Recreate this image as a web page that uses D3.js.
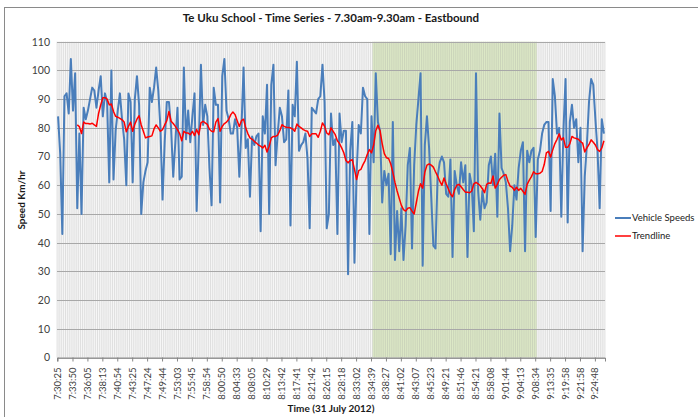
<!DOCTYPE html>
<html>
<head>
<meta charset="utf-8">
<script src="https://cdn.jsdelivr.net/npm/d3@7"></script>
<style>
  html, body { margin: 0; padding: 0; background: #fff; }
  svg { display: block; font-family: Lato, "Liberation Sans", sans-serif; }
</style>
</head>
<body>
<svg id="chart" width="698" height="417"></svg>
<script>
// Tick labels on the time axis (one every 7 vehicles)
const times = ["7:30:25","7:33:50","7:36:05","7:38:13","7:40:54","7:43:25","7:47:24","7:49:44",
  "7:53:03","7:55:45","7:58:54","8:00:50","8:04:33","8:08:05","8:10:29","8:13:42","8:17:41",
  "8:21:42","8:26:15","8:28:18","8:33:02","8:34:39","8:38:27","8:41:02","8:43:07","8:45:23",
  "8:49:21","8:51:46","8:54:21","8:58:08","9:01:44","9:04:13","9:08:34","9:13:35","9:19:58",
  "9:21:58","9:24:48"];
const labelEvery = 7;

// Individual vehicle speeds (km/h), in order of passing
const speeds = [
  84,71,43,91,92,85,104,86,99,52,
  78,50,87,83,86,90,94,93,87,93,
  98,84,92,89,61,100,62,79,86,92,
  83,76,60,92,89,61,90,98,88,50,
  61,65,68,94,89,94,101,93,80,55,
  75,89,89,80,63,75,87,62,63,101,
  76,86,75,84,92,51,75,102,81,88,
  84,66,53,94,88,88,54,98,104,86,
  83,78,78,83,80,63,80,101,73,76,
  56,77,74,77,78,44,84,78,95,50,
  95,102,67,78,87,84,75,76,93,46,
  88,84,103,72,74,75,78,69,45,87,
  86,85,90,91,102,89,45,50,85,74,
  76,43,85,75,79,79,29,72,82,33,
  64,81,78,94,91,90,43,84,68,99,
  82,79,54,65,60,64,36,82,34,51,
  37,52,34,46,67,73,38,67,81,90,
  99,32,74,84,73,56,39,38,63,68,
  70,68,57,56,69,35,65,60,57,68,
  61,67,35,64,60,44,99,58,48,58,
  52,54,67,70,60,71,49,85,66,64,
  61,52,37,46,60,55,66,72,75,37,
  72,68,72,73,42,69,72,78,81,82,
  82,51,97,91,78,80,49,79,97,47,
  82,88,80,83,68,80,37,63,74,89,
  97,95,83,72,52,83,78
];

// Trendline (km/h); no value for the first vehicles
const trendline = [
  null,null,null,null,null,null,null,null,null,81,
  80.4,78,82,81.5,81.5,81.3,81.6,81,80.5,85,
  88,90.5,90.5,90,88,88.3,85.7,84,83.7,83.3,
  82.8,82,78.6,80.5,82,78.8,81.3,83,84.2,81,
  78.8,76.5,76.8,77,77.2,79.6,81,80,78.8,79.4,
  81,82.5,85.7,82.3,81.5,80.5,79.4,78,75.5,78.8,
  78.2,78.2,77.6,78.8,77.3,79.4,77.6,81.7,82.3,81.7,
  81.2,79.5,78.8,78.6,82,83.2,78.8,80.5,81.5,82,
  82.9,84.6,85.5,84.6,82.5,80.5,82.5,83,80,78,
  76.5,76,75.3,74.7,74,73.6,73,73.9,71.6,73.6,
  76.5,77,77,77.5,79,81.1,80.5,80.2,80.1,80,
  79.6,78.8,81.3,80.5,80,79.4,79,78.8,77,77.9,
  77.9,77.9,76.7,78.8,81.7,80.5,78.2,77.6,80,78.8,
  77.6,75.5,74.5,73,71.3,68.6,67.8,68.6,68.9,65.5,
  62,65.1,65.5,67.2,68.6,70.7,72.4,71.3,74,79,
  80.9,79,74.5,71,69.6,69.3,67.5,64.5,61,58,
  55.5,53,51.5,51,52,52.2,51,50,53.9,57.9,
  60.5,59,64.5,67,67.4,67,66.3,64.7,63.2,61.4,
  60,62.5,60.5,58.8,57,56,58.5,60,60.3,59.5,
  58.5,57.6,57.6,57.4,58,60.5,61,60.5,59.8,58.8,
  57.4,60.3,60.8,60.7,63.2,59,60.3,62,62.8,63.5,
  63.7,61.4,59.7,59.3,58.2,59.3,58.2,58.9,57.9,56.8,
  60.3,61.8,63,64.7,64,64,64.2,64.8,67.2,71.3,
  71.8,69.8,72.4,74.5,76,77.9,75.8,76.5,73.2,73.2,
  74.4,77,76.5,76.3,76,75.2,74.7,71.6,73,74.2,
  75.8,75,74,72.4,71.8,73,75.5
];

// Vehicles inside the shaded school-zone period (first and last index)
const shadeFrom = 148;
const shadeTo = 224;

const yTicks = [0,10,20,30,40,50,60,70,80,90,100,110];

const svg = d3.select("#chart");
const plot = { left: 57, right: 605, top: 41.7, bottom: 357.5 };

const x = d3.scaleBand().domain(d3.range(speeds.length)).range([plot.left, plot.right]).padding(0);
const y = d3.scaleLinear().domain([0, 110]).range([plot.bottom, plot.top]);
const bw = x.bandwidth();
const cx = i => x(i) + bw / 2;

// Chart frame
svg.append("rect").attr("x", 4.5).attr("y", 7.5).attr("width", 760).attr("height", 480)
  .attr("fill", "#fff").attr("stroke", "#8a8a8a").attr("stroke-width", 1);

// Plot background
svg.append("rect").attr("x", plot.left).attr("y", plot.top)
  .attr("width", plot.right - plot.left).attr("height", plot.bottom - plot.top)
  .attr("fill", "#f6f6f6");

// Shaded period
svg.append("rect")
  .attr("x", x(shadeFrom)).attr("y", plot.top)
  .attr("width", x(shadeTo) + bw - x(shadeFrom)).attr("height", plot.bottom - plot.top)
  .attr("fill", "#dce8c6");

// Vertical gridlines between categories
svg.append("g").selectAll("line").data(d3.range(speeds.length + 1)).join("line")
  .attr("x1", i => (i < speeds.length ? x(i) : plot.right))
  .attr("x2", i => (i < speeds.length ? x(i) : plot.right))
  .attr("y1", plot.top).attr("y2", plot.bottom)
  .attr("stroke", "#9a9a9a").attr("stroke-opacity", 0.35).attr("stroke-width", 0.7);

// Horizontal gridlines
svg.append("g").selectAll("line").data(yTicks).join("line")
  .attr("x1", plot.left).attr("x2", plot.right)
  .attr("y1", d => Math.round(y(d)) + 0.5).attr("y2", d => Math.round(y(d)) + 0.5)
  .attr("stroke", "#a8a8a8").attr("stroke-width", 1);

// Y axis labels
const yAxis = d3.axisLeft(y).tickValues(yTicks).tickSize(0).tickPadding(7);
svg.append("g").attr("transform", `translate(${plot.left},0)`).call(yAxis)
  .call(g => g.select(".domain").remove())
  .call(g => g.selectAll("text").attr("font-size", 10.5).attr("fill", "#404040")
    .attr("font-family", "Lato, sans-serif"));

// X axis
const xAxis = d3.axisBottom(x)
  .tickValues(d3.range(0, speeds.length, labelEvery))
  .tickFormat(i => times[i / labelEvery])
  .tickSize(4).tickPadding(3);
const gx = svg.append("g").attr("transform", `translate(0,${plot.bottom})`).call(xAxis);
gx.select(".domain").attr("stroke", "#868686");
gx.selectAll(".tick line").attr("stroke", "#868686");
gx.selectAll("text")
  .attr("font-size", 9.5).attr("fill", "#404040").attr("font-family", "Lato, sans-serif")
  .attr("transform", "rotate(-90)")
  .attr("text-anchor", "end").attr("dx", "-5").attr("dy", "0.32em").attr("y", 0).attr("x", -5);

// Series lines
const speedLine = d3.line().x((d, i) => cx(i)).y(d => y(d));
svg.append("path").datum(speeds).attr("d", speedLine)
  .attr("fill", "none").attr("stroke", "#4a7ebb").attr("stroke-width", 2).attr("stroke-linejoin", "round");

const trendPath = d3.line().defined(d => d !== null).x((d, i) => cx(i)).y(d => y(d));
svg.append("path").datum(trendline).attr("d", trendPath)
  .attr("fill", "none").attr("stroke", "#ff0000").attr("stroke-width", 1.5).attr("stroke-linejoin", "round");

// Titles
svg.append("text").attr("x", 331).attr("y", 22).attr("text-anchor", "middle")
  .attr("font-size", 11.5).attr("font-weight", "bold").attr("fill", "#1a1a1a")
  .text("Te Uku School - Time Series - 7.30am-9.30am - Eastbound");

svg.append("text").attr("x", 331).attr("y", 412).attr("text-anchor", "middle")
  .attr("font-size", 10).attr("font-weight", "bold").attr("fill", "#1a1a1a")
  .text("Time (31 July 2012)");

svg.append("text").attr("transform", "translate(25,200) rotate(-90)").attr("text-anchor", "middle")
  .attr("font-size", 10).attr("font-weight", "bold").attr("fill", "#1a1a1a")
  .text("Speed Km/hr");

// Legend
const legend = [
  { name: "Vehicle Speeds", color: "#4a7ebb", width: 2 },
  { name: "Trendline", color: "#ff0000", width: 1.5 }
];
const lg = svg.append("g").selectAll("g").data(legend).join("g")
  .attr("transform", (d, i) => `translate(615,${218 + i * 18})`);
lg.append("line").attr("x1", 0).attr("x2", 16).attr("y1", 0).attr("y2", 0)
  .attr("stroke", d => d.color).attr("stroke-width", d => d.width);
lg.append("text").attr("x", 17).attr("y", 0).attr("dy", "0.35em")
  .attr("font-size", 9.5).attr("fill", "#1a1a1a").text(d => d.name);
</script>
</body>
</html>
